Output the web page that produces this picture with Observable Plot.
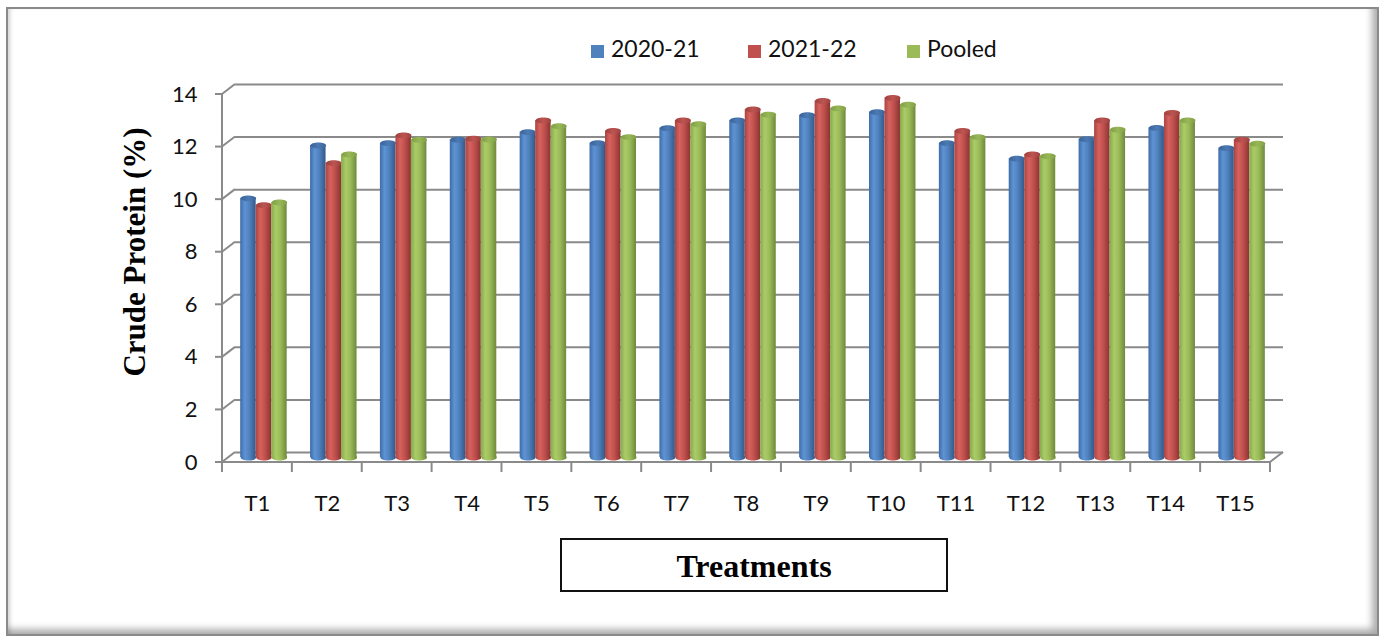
<!DOCTYPE html>
<html>
<head>
<meta charset="utf-8">
<script src="https://cdn.jsdelivr.net/npm/d3@7"></script>
<script src="https://cdn.jsdelivr.net/npm/@observablehq/plot@0.6"></script>
<style>
  html, body { margin: 0; padding: 0; background: #fff; }
  #wrap { position: relative; width: 1387px; height: 637px; overflow: hidden; font-family: Lato, "Open Sans", sans-serif; }
  #frame { position: absolute; left: 6px; top: 7px; width: 1369px; height: 625px; border: 2px solid #8a8a8a;
           box-shadow: inset -8px -8px 7px -3px rgba(0,0,0,0.32), inset 4px 0 4px -2px rgba(0,0,0,0.18); }
  #chart { position: absolute; left: 0; top: 0; }
  .legend { position: absolute; top: 33px; left: 0; height: 30px; font-size: 23px; color: #111; }
  .legend span.sw { position: absolute; top: 12px; width: 13px; height: 13px; }
  .legend span.lb { position: absolute; top: 1px; white-space: nowrap; }
  #ytitle { position: absolute; left: 135px; top: 252px; transform: translate(-50%, -50%) rotate(-90deg);
            font-family: "Liberation Serif", "DejaVu Serif", serif; font-weight: bold; font-size: 31px; white-space: nowrap; color: #000; }
  #xbox { position: absolute; left: 560px; top: 538px; width: 384px; height: 50px; border: 2px solid #111;
          font-family: "Liberation Serif", "DejaVu Serif", serif; font-weight: bold; font-size: 32px; text-align: center; line-height: 52px; color: #000; }
</style>
</head>
<body>
<div id="wrap">
  <div id="frame"></div>
  <div id="chart"></div>
  <div id="legend"></div>
  <div id="ytitle">Crude Protein (%)</div>
  <div id="xbox">Treatments</div>
</div>
<script>
// ---- data ----
const treatments = ["T1","T2","T3","T4","T5","T6","T7","T8","T9","T10","T11","T12","T13","T14","T15"];
const seriesNames = ["2020-21", "2021-22", "Pooled"];
const y2020 = [9.86, 11.87, 11.96, 12.09, 12.38, 11.96, 12.53, 12.82, 13.02, 13.14, 11.96, 11.37, 12.11, 12.54, 11.77];
const y2021 = [9.60, 11.20, 12.25, 12.13, 12.82, 12.42, 12.82, 13.24, 13.56, 13.68, 12.42, 11.53, 12.82, 13.11, 12.09];
const yPooled = [9.70, 11.53, 12.09, 12.10, 12.60, 12.19, 12.68, 13.04, 13.28, 13.42, 12.19, 11.46, 12.47, 12.82, 11.94];
const yTicks = [0, 2, 4, 6, 8, 10, 12, 14];
const seriesColors = ["#4F81BD", "#C0504D", "#9BBB59"];

// ---- layout ----
const W = 1387, H = 637;
const mL = 222, mR = 117, mT = 94, mB = 175;
const depthX = 13, depthY = -10;          // 3D depth offset of back wall
const barW = 15.5;
const bw = (W - mL - mR) / treatments.length;
const groupW = barW * 3;
const lead = (bw - groupW) / 2;

const allSeries = [y2020, y2021, yPooled];
const table = [];
allSeries.forEach((vals, s) => vals.forEach((v, i) => table.push({t: treatments[i], s, v})));

// ellipse symbol for cylinder caps
const ellipse = {
  draw(ctx, size) {
    const rx = Math.sqrt(size / Math.PI), ry = rx * 0.38, k = 0.5523;
    ctx.moveTo(-rx, 0);
    ctx.bezierCurveTo(-rx, -ry * k, -rx * k, -ry, 0, -ry);
    ctx.bezierCurveTo(rx * k, -ry, rx, -ry * k, rx, 0);
    ctx.bezierCurveTo(rx, ry * k, rx * k, ry, 0, ry);
    ctx.bezierCurveTo(-rx * k, ry, -rx, ry * k, -rx, 0);
    ctx.closePath();
  }
};

const gridColor = "#8a8a8a";
const barMarks = [];
[0, 1, 2].forEach(s => {
  const d = table.filter(r => r.s === s);
  const inL = lead + s * barW;
  const inR = bw - inL - barW;
  const cx = -bw / 2 + inL + barW / 2 + depthX / 2;
  barMarks.push(Plot.dot(d, {x: "t", y: () => 0, symbol: ellipse, r: barW / 2, fill: `url(#body${s})`, stroke: "none", dx: cx, dy: depthY / 2}));
  barMarks.push(Plot.barY(d, {x: "t", y: "v", insetLeft: inL, insetRight: inR, fill: `url(#body${s})`, dx: depthX / 2, dy: depthY / 2}));
  barMarks.push(Plot.dot(d, {x: "t", y: "v", symbol: ellipse, r: barW / 2, fill: `url(#top${s})`, stroke: "none", dx: cx, dy: depthY / 2}));
});

function svgEl(tag, attrs) {
  const e = document.createElementNS("http://www.w3.org/2000/svg", tag);
  for (const k in attrs) e.setAttribute(k, attrs[k]);
  return e;
}

// floor + wall diagonals
const wallEdges = (index, scales, values, dim) => {
  const g = svgEl("g", {stroke: gridColor, "stroke-width": 2, fill: "none"});
  const x0 = dim.marginLeft, x1 = dim.width - dim.marginRight;
  for (const t of yTicks) {
    const y = scales.y(t);
    g.appendChild(svgEl("line", {x1: x0, y1: y, x2: x0 + depthX, y2: y + depthY}));
  }
  const y0 = scales.y(0);
  g.appendChild(svgEl("line", {x1: x1, y1: y0, x2: x1 + depthX, y2: y0 + depthY}));
  return g;
};

// front axes
const frontAxes = (index, scales, values, dim) => {
  const g = svgEl("g", {stroke: gridColor, "stroke-width": 2, fill: "none"});
  const x0 = dim.marginLeft, x1 = dim.width - dim.marginRight;
  const y0 = scales.y(0);
  g.appendChild(svgEl("line", {x1: x0, y1: scales.y(14), x2: x0, y2: y0 + 1}));
  g.appendChild(svgEl("line", {x1: x0, y1: y0, x2: x1, y2: y0}));
  for (const t of yTicks) {
    const y = scales.y(t);
    g.appendChild(svgEl("line", {x1: x0 - 7, y1: y, x2: x0, y2: y}));
  }
  const edges = treatments.map(t => scales.x(t)).concat([x1]);
  for (const x of edges) g.appendChild(svgEl("line", {x1: x, y1: y0, x2: x, y2: y0 + 10}));
  return g;
};

const chart = Plot.plot({
  width: W, height: H,
  marginLeft: mL, marginRight: mR, marginTop: mT, marginBottom: mB,
  style: {fontFamily: "Lato, 'Open Sans', sans-serif", fontSize: "22px", color: "#111", background: "transparent"},
  x: {domain: treatments, padding: 0, round: false, label: null},
  y: {domain: [0, 14], label: null},
  marks: [
    Plot.ruleY(yTicks, {stroke: gridColor, strokeWidth: 2, dx: depthX, dy: depthY}),
    wallEdges,
    ...barMarks,
    frontAxes,
    Plot.axisY(yTicks, {tickSize: 0, tickPadding: 25, fontSize: 22, label: null, fill: "#111"}),
    Plot.axisX({tickSize: 0, tickPadding: 33, fontSize: 22, label: null, fill: "#111"})
  ]
});

// gradient defs for cylinder shading
const defs = svgEl("defs", {});
const shades = [
  {body: ["#3E6DA8", "#5E93D4", "#4F81BD", "#33598A"], top: ["#3A6398", "#4C7AB3"]},
  {body: ["#A94441", "#D6625E", "#C0504D", "#8A3432"], top: ["#A0403D", "#BC5552"]},
  {body: ["#88A84B", "#AACC68", "#9BBB59", "#6F893C"], top: ["#819F47", "#97B757"]}
];
shades.forEach((sh, s) => {
  const gb = svgEl("linearGradient", {id: `body${s}`, x1: 0, x2: 1, y1: 0, y2: 0});
  [[0, sh.body[0]], [0.3, sh.body[1]], [0.6, sh.body[2]], [1, sh.body[3]]].forEach(([o, c]) => gb.appendChild(svgEl("stop", {offset: o, "stop-color": c})));
  defs.appendChild(gb);
  const gt = svgEl("linearGradient", {id: `top${s}`, x1: 0, x2: 1, y1: 0, y2: 0});
  [[0, sh.top[0]], [0.5, sh.top[1]], [1, sh.top[0]]].forEach(([o, c]) => gt.appendChild(svgEl("stop", {offset: o, "stop-color": c})));
  defs.appendChild(gt);
});
chart.insertBefore(defs, chart.firstChild);
document.getElementById("chart").appendChild(chart);

// legend
const legendPos = [591, 748, 907];
const leg = document.getElementById("legend");
seriesNames.forEach((name, i) => {
  const wrap = document.createElement("div");
  wrap.className = "legend";
  wrap.style.left = legendPos[i] + "px";
  wrap.innerHTML = `<span class="sw" style="left:0;background:${seriesColors[i]}"></span><span class="lb" style="left:20px">${name}</span>`;
  leg.appendChild(wrap);
});
</script>
</body>
</html>
